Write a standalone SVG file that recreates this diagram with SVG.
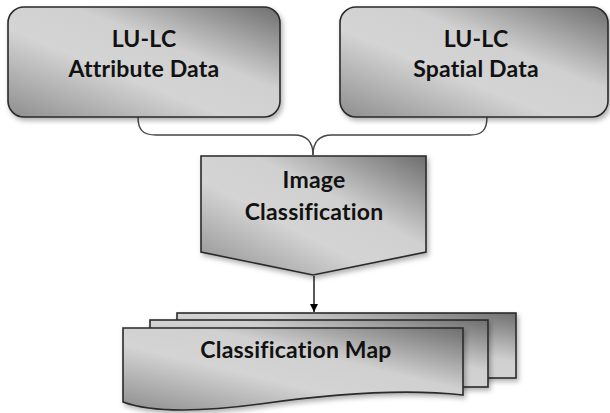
<svg xmlns="http://www.w3.org/2000/svg" width="610" height="413" viewBox="0 0 610 413">
<defs>
<linearGradient id="g" x1="0" y1="1" x2="1" y2="0">
<stop offset="0" stop-color="#8e8e8e"/>
<stop offset="0.4" stop-color="#d4d4d4"/>
<stop offset="0.62" stop-color="#d0d0d0"/>
<stop offset="1" stop-color="#6e6e6e"/>
</linearGradient>
<filter id="sh" x="-10%" y="-10%" width="125%" height="130%">
<feDropShadow dx="2" dy="3" stdDeviation="2.5" flood-color="#000" flood-opacity="0.3"/>
</filter>
<marker id="ah" viewBox="0 0 10 10" refX="10" refY="5" markerWidth="8" markerHeight="8" orient="auto" markerUnits="userSpaceOnUse">
<path d="M0,0 L10,5 L0,10 Z" fill="#000"/>
</marker>
</defs>
<style>
.shape{fill:url(#g);stroke:#2a2a2a;stroke-width:1.6;filter:url(#sh);}
.t{font-family:Lato,"Open Sans",sans-serif;font-weight:bold;font-size:23px;letter-spacing:0.2px;font-variant-ligatures:none;fill:#111;text-anchor:middle;}
.c{fill:none;stroke:#444;stroke-width:1.4;}
</style>
<rect width="610" height="413" fill="#fff"/>
<g id="connectors">
<path class="c" d="M138,117 C138,130 143,135 156,135 L294,135 C306,135 313,141 313,155"/>
<path class="c" d="M487,117 C487,130 482,135 470,135 L332,135 C320,135 313,141 313,155"/>
<line x1="314" y1="276" x2="314" y2="312" stroke="#111" stroke-width="1.4" marker-end="url(#ah)"/>
</g>
<g id="attr">
<rect class="shape" x="8" y="7" width="272" height="110" rx="16"/>
<text class="t" x="144" y="47">LU-LC</text>
<text class="t" x="144" y="77">Attribute Data</text>
</g>
<g id="spatial">
<rect class="shape" x="340" y="7" width="268" height="110" rx="16"/>
<text class="t" x="476" y="47">LU-LC</text>
<text class="t" x="476" y="77">Spatial Data</text>
</g>
<g id="classif">
<path class="shape" d="M201,156 L426,156 L426,252 L313,275 L201,252 Z"/>
<text class="t" x="314" y="188">Image</text>
<text class="t" x="314" y="220">Classification</text>
</g>
<g id="map">
<rect class="shape" x="177" y="313" width="339" height="65"/>
<rect class="shape" x="150" y="320" width="338" height="67"/>
<path class="shape" d="M123,328 L463,328 L463,395 C400,388 330,394 260,404 C200,412 150,412 123,402 Z"/>
<text class="t" x="296" y="358">Classification Map</text>
</g>
</svg>
